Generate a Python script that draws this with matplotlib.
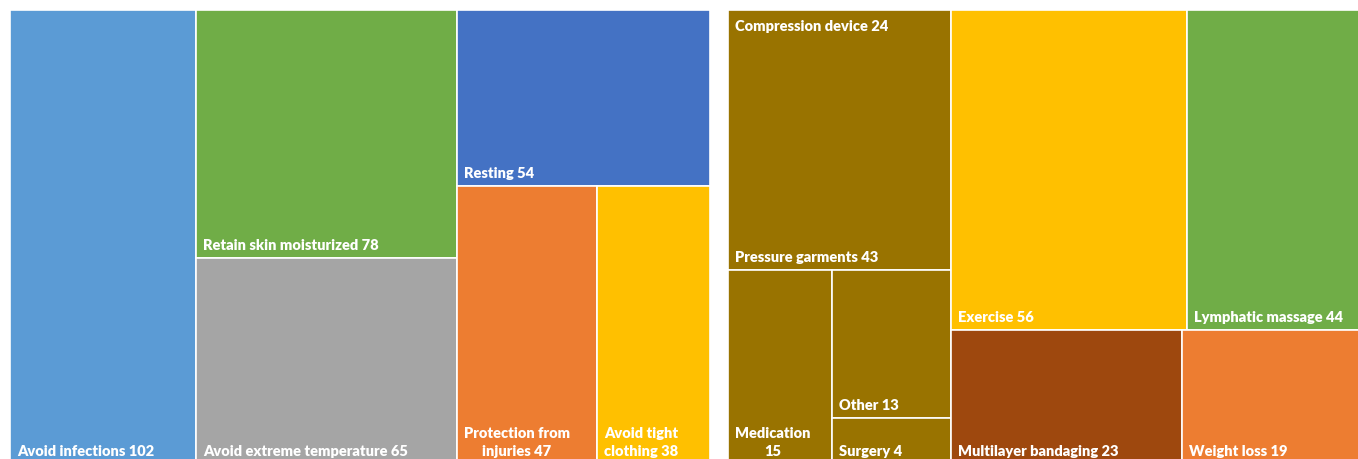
import matplotlib.pyplot as plt
from matplotlib.patches import Rectangle

# left treemap: self-care
left_labels = ['Avoid infections 102', 'Retain skin moisturized 78', 'Avoid extreme temperature 65',
               'Resting 54', 'Protection from\ninjuries 47', 'Avoid tight\nclothing 38']
left_values = [102, 78, 65, 54, 47, 38]
left_colors = ['#5B9BD5', '#70AD47', '#A5A5A5', '#4472C4', '#ED7D31', '#FFC000']
left_layout = [[0], [1, 2], [3, [4, 5]]]

# right treemap: treatments
right_labels = ['Pressure garments 43', 'Medication\n15', 'Other 13', 'Surgery 4',
                'Exercise 56', 'Lymphatic massage 44', 'Multilayer bandaging 23', 'Weight loss 19']
right_values = [43, 15, 13, 4, 56, 44, 23, 19]
right_colors = ['#997300', '#997300', '#997300', '#997300',
                '#FFC000', '#70AD47', '#9E480E', '#ED7D31']
right_layout = [[0, [1, [2, 3]]], [[4, 5], [6, 7]]]
right_header = (0, 'Compression device 24')


def total(node, values):
    if isinstance(node, list):
        return sum(total(n, values) for n in node)
    return values[node]


def slice_rects(node, values, x, y, w, h, horiz, out):
    if not isinstance(node, list):
        out[node] = (x, y, w, h)
        return
    s = total(node, values)
    for n in node:
        f = total(n, values) / s
        if horiz:
            slice_rects(n, values, x, y, w * f, h, not horiz, out)
            x += w * f
        else:
            slice_rects(n, values, x, y, w, h * f, not horiz, out)
            y += h * f


def draw(ax, layout, labels, values, colors):
    rects = {}
    slice_rects(layout, values, 0, 0, 1, 1, True, rects)
    for i, (x, y, w, h) in rects.items():
        ax.add_patch(Rectangle((x, y), w, h, facecolor=colors[i], edgecolor='white', linewidth=1.2))
        ax.annotate(labels[i], (x, y + h), xytext=(7, 6), textcoords='offset pixels',
                    ha='left', va='bottom', multialignment='center', linespacing=1.45,
                    color='white', fontsize=10.5, fontweight='heavy', family='Lato')
    ax.set_xlim(0, 1)
    ax.set_ylim(1, 0)
    ax.axis('off')
    return rects


fig = plt.figure(figsize=(13.58, 4.59), dpi=100)
ax1 = fig.add_axes([10 / 1358, -5 / 459, 700 / 1358, 454 / 459])
ax2 = fig.add_axes([728 / 1358, -5 / 459, 645 / 1358, 454 / 459])

draw(ax1, left_layout, left_labels, left_values, left_colors)
rects = draw(ax2, right_layout, right_labels, right_values, right_colors)

x, y, w, h = rects[right_header[0]]
ax2.annotate(right_header[1], (x, y), xytext=(7, -10), textcoords='offset pixels',
             ha='left', va='top', color='white', fontsize=10.5, fontweight='heavy', family='Lato')

fig.savefig('out.png', dpi=100)
